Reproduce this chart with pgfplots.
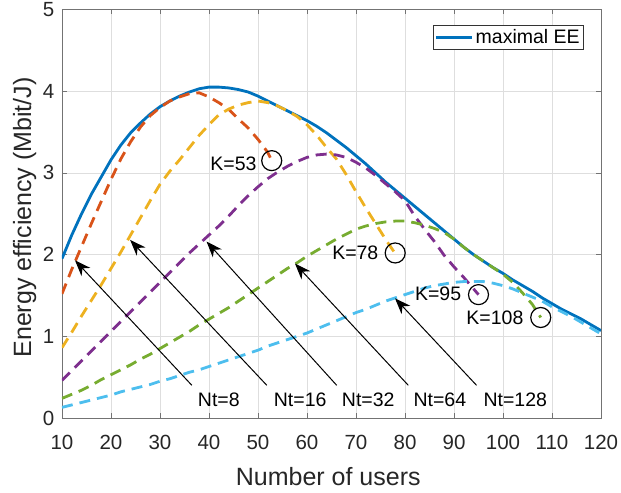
\documentclass[border=0pt]{standalone}
\usepackage{pgfplots}
\pgfplotsset{compat=1.18}
\usepackage{fontspec}
\setmainfont{Liberation Sans}
\usetikzlibrary{arrows.meta}
\definecolor{mblue}{rgb}{0,0.447,0.741}
\definecolor{mred}{rgb}{0.85,0.325,0.098}
\definecolor{myellow}{rgb}{0.929,0.694,0.125}
\definecolor{mpurple}{rgb}{0.494,0.184,0.556}
\definecolor{mgreen}{rgb}{0.466,0.674,0.188}
\definecolor{mcyan}{rgb}{0.301,0.745,0.933}
\definecolor{mgray}{rgb}{0.15,0.15,0.15}
\begin{document}
\begin{tikzpicture}
\begin{axis}[name=ax,
  scale only axis, width=539pt, height=408.5pt,
  xmin=10, xmax=120, ymin=0, ymax=5,
  xtick={10,20,...,120}, ytick={0,1,...,5},
  grid=major,
  major grid style={line width=0.6pt, color=black!13},
  axis line style={line width=0.6pt, color=black!55},
  tick style={line width=0.6pt, color=black!55},
  major tick length=5pt, tick align=inside,
  /pgf/number format/assume math mode=true,
  ticklabel style={font=\fontsize{20.5}{24}\selectfont, text=mgray, inner sep=0pt},
  xticklabel shift=17pt, yticklabel shift=7.5pt,
  xlabel={Number of users}, ylabel={Energy efficiency (Mbit/J)},
  label style={font=\fontsize{25}{30}\selectfont, text=mgray, inner sep=0pt},
  xlabel style={at={(axis description cs:0.494,-0.1657)}, anchor=base},
  ylabel style={at={(axis description cs:-0.0575,0.491)}, anchor=base},
  legend style={at={(axis description cs:1,1)}, anchor=north east, xshift=-17pt, yshift=-15.5pt,
    font=\fontsize{19.5}{23}\selectfont, draw=black!80, line width=0.6pt, inner xsep=2pt, inner ysep=2pt},
  legend cell align=left,
  legend image code/.code={\draw[#1] (0pt,0pt) -- (36pt,0pt);},
  every axis plot/.append style={line width=2.8pt},
]
% maximal EE
\addplot[mblue, solid] coordinates {
(10,1.95) (12,2.24) (14,2.50) (16,2.74) (18,2.95) (20,3.16) (22,3.34) (24,3.49) (26,3.61) (28,3.72)
(30,3.81) (32,3.88) (34,3.94) (36,3.99) (38,4.03) (40,4.05) (42,4.05) (44,4.04) (46,4.02) (48,3.99)
(50,3.94) (52,3.88) (54,3.82) (56,3.76) (58,3.70) (60,3.64) (62,3.57) (64,3.49) (66,3.40) (68,3.31)
(70,3.21) (72,3.11) (74,3.00) (76,2.89) (78,2.79) (80,2.69) (82,2.59) (84,2.49) (86,2.39) (88,2.29)
(90,2.19) (92,2.09) (94,2.00) (96,1.92) (98,1.84) (100,1.77) (102,1.69) (104,1.62) (106,1.55) (108,1.47)
(110,1.40) (112,1.33) (114,1.27) (116,1.21) (118,1.14) (120,1.07)};
\addlegendentry{maximal EE}
% Nt=8
\addplot[mred, dash pattern=on 11pt off 7pt, forget plot] coordinates {
(10,1.52) (12,1.82) (14,2.10) (16,2.38) (18,2.65) (20,2.92) (22,3.17) (24,3.38) (26,3.56) (28,3.70)
(30,3.80) (32,3.88) (34,3.93) (36,3.97) (38,3.98) (40,3.93) (42,3.86) (44,3.78) (46,3.66) (48,3.55)
(50,3.41) (52,3.25) (52.8,3.15)};
% Nt=16
\addplot[myellow, dash pattern=on 11pt off 7pt, forget plot] coordinates {
(10,0.86) (12,1.05) (14,1.25) (16,1.44) (18,1.63) (20,1.83) (22,2.03) (24,2.24) (26,2.45) (28,2.66)
(30,2.86) (32,3.02) (34,3.16) (36,3.31) (38,3.46) (40,3.59) (42,3.71) (44,3.78) (46,3.83) (48,3.86)
(50,3.88) (52,3.86) (54,3.82) (56,3.76) (58,3.69) (60,3.59) (62,3.46) (64,3.31) (66,3.17) (68,2.98)
(70,2.77) (72,2.57) (74,2.38) (76,2.19) (77.8,2.03)};
% Nt=32
\addplot[mpurple, dash pattern=on 11pt off 7pt, forget plot] coordinates {
(10,0.46) (12,0.58) (14,0.70) (16,0.82) (18,0.94) (20,1.06) (22,1.18) (24,1.30) (26,1.42) (28,1.54)
(30,1.66) (32,1.78) (34,1.90) (36,2.02) (38,2.13) (40,2.24) (42,2.35) (44,2.47) (46,2.60) (48,2.72)
(50,2.83) (52,2.93) (54,3.01) (56,3.08) (58,3.14) (60,3.19) (62,3.22) (64,3.23) (66,3.22) (68,3.19)
(70,3.13) (72,3.06) (74,2.97) (76,2.87) (78,2.77) (80,2.66) (82,2.47) (84,2.31) (86,2.16) (88,1.99)
(90,1.85) (92,1.72) (94,1.58) (95,1.51)};
% Nt=64
\addplot[mgreen, dash pattern=on 11pt off 7pt, forget plot] coordinates {
(10,0.24) (12,0.29) (14,0.34) (16,0.40) (18,0.47) (20,0.53) (22,0.59) (24,0.65) (26,0.72) (28,0.78)
(30,0.85) (32,0.92) (34,0.99) (36,1.06) (38,1.14) (40,1.21) (42,1.28) (44,1.35) (46,1.43) (48,1.51)
(50,1.59) (52,1.67) (54,1.75) (56,1.83) (58,1.90) (60,1.98) (62,2.05) (64,2.12) (66,2.19) (68,2.25)
(70,2.31) (72,2.35) (74,2.38) (76,2.40) (78,2.41) (80,2.41) (82,2.39) (84,2.36) (86,2.32) (88,2.27)
(90,2.19) (92,2.09) (94,2.00) (96,1.92) (98,1.84) (100,1.76) (102,1.66) (104,1.53) (106,1.39) (107.7,1.23)};
% Nt=128
\addplot[mcyan, dash pattern=on 11pt off 7pt, forget plot] coordinates {
(10,0.13) (12,0.16) (14,0.19) (16,0.22) (18,0.25) (20,0.28) (22,0.32) (24,0.35) (26,0.38) (28,0.41)
(30,0.45) (32,0.48) (34,0.52) (36,0.56) (38,0.59) (40,0.63) (42,0.67) (44,0.71) (46,0.75) (48,0.79)
(50,0.83) (52,0.88) (54,0.92) (56,0.96) (58,1.00) (60,1.04) (62,1.09) (64,1.14) (66,1.19) (68,1.24)
(70,1.29) (72,1.33) (74,1.38) (76,1.43) (78,1.47) (80,1.51) (82,1.55) (84,1.59) (86,1.62) (88,1.64)
(90,1.66) (92,1.67) (94,1.67) (96,1.67) (98,1.65) (100,1.62) (102,1.58) (104,1.53) (106,1.48) (108,1.43)
(110,1.36) (112,1.30) (114,1.24) (116,1.17) (118,1.10) (120,1.03)};
% circles at end points
\addplot[only marks, mark=o, mark size=10pt, mark options={line width=1.2pt, draw=black, solid}, forget plot] coordinates {
(52.8,3.15) (78,2.02) (95,1.51) (107.7,1.23)};
% arrows
\draw[line width=1pt, -{Stealth[length=16pt,width=12pt,inset=5pt]}] (axis cs:36.5,0.40) -- (axis cs:12.65,1.93);
\draw[line width=1pt, -{Stealth[length=16pt,width=12pt,inset=5pt]}] (axis cs:51.8,0.40) -- (axis cs:23.9,2.18);
\draw[line width=1pt, -{Stealth[length=16pt,width=12pt,inset=5pt]}] (axis cs:66.06,0.40) -- (axis cs:39.5,2.16);
\draw[line width=1pt, -{Stealth[length=16pt,width=12pt,inset=5pt]}] (axis cs:80.67,0.40) -- (axis cs:57.55,1.89);
\draw[line width=1pt, -{Stealth[length=16pt,width=12pt,inset=5pt]}] (axis cs:94.6,0.40) -- (axis cs:77.96,1.465);
% labels
\begin{scope}[every node/.style={inner sep=0pt, font=\fontsize{19.5}{23}\selectfont}]
\node[anchor=base west] at (axis cs:37.7,0.135) {Nt=8};
\node[anchor=base west] at (axis cs:53.2,0.135) {Nt=16};
\node[anchor=base west] at (axis cs:67.1,0.135) {Nt=32};
\node[anchor=base west] at (axis cs:81.7,0.135) {Nt=64};
\node[anchor=base west] at (axis cs:96.0,0.135) {Nt=128};
\node[anchor=base east] at (axis cs:49.75,3.035) {K=53};
\node[anchor=base east] at (axis cs:74.6,1.94) {K=78};
\node[anchor=base east] at (axis cs:91.5,1.435) {K=95};
\node[anchor=base east] at (axis cs:104.2,1.15) {K=108};
\end{scope}
\end{axis}
\pgfresetboundingbox
\path[use as bounding box] ([shift={(-62pt,-75pt)}]ax.south west) rectangle ([shift={(20pt,9.5pt)}]ax.north east);
\end{tikzpicture}
\end{document}
